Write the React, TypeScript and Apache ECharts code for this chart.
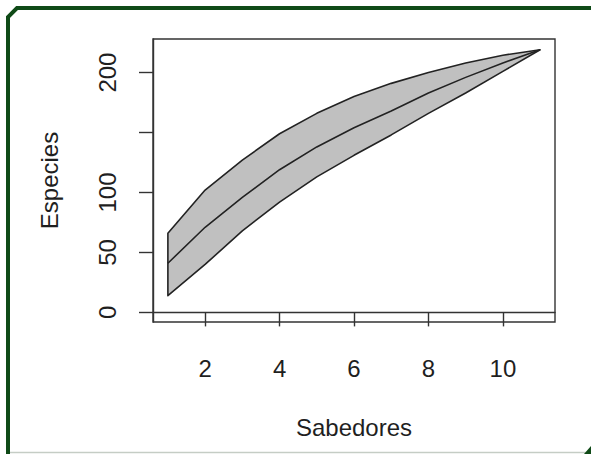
import React, { useEffect, useRef } from "react";
import * as echarts from "echarts";

const sabedores = [1, 2, 3, 4, 5, 6, 7, 8, 9, 10, 11];
const upperBound = [66, 102, 127, 149, 166, 180, 191, 200, 208, 214.5, 219];
const meanCurve = [41, 71, 96, 119, 138, 154, 168, 183, 196, 208, 219];
const lowerBound = [14, 40, 68, 92, 113, 131, 148, 166, 183, 201, 219];

const xTicks = [2, 4, 6, 8, 10];
const yTicks = [0, 50, 100, 150, 200];
const yTickLabels = [0, 50, 100, 200];

const FONT = "'Liberation Sans', Arial, sans-serif";
const TEXT = "#1f1f1f";
const LINE = "#222222";

export default function App() {
  const ref = useRef<HTMLDivElement>(null);

  useEffect(() => {
    if (!ref.current) return;
    const chart = echarts.init(ref.current, undefined, { renderer: "svg" });
    const pair = (arr: number[]) => sabedores.map((x, i) => [x, arr[i]]);

    chart.setOption({
      animation: false,
      backgroundColor: "#ffffff",
      grid: {
        left: 153,
        right: 36,
        top: 39,
        bottom: 132,
        show: true,
        borderColor: "#333333",
        borderWidth: 1.4,
        backgroundColor: "transparent",
      },
      xAxis: {
        type: "value",
        min: 0.6,
        max: 11.4,
        name: "Sabedores",
        nameLocation: "middle",
        nameGap: 93,
        nameTextStyle: { fontSize: 24, fontFamily: FONT, color: TEXT },
        axisLine: { show: true, lineStyle: { color: "#333333", width: 1.4 } },
        axisTick: {
          show: true,
          length: 14,
          customValues: xTicks,
          lineStyle: { color: "#333333", width: 1.4 },
        },
        axisLabel: {
          customValues: xTicks,
          margin: 34,
          fontSize: 24,
          fontFamily: FONT,
          color: TEXT,
        },
        splitLine: { show: false },
      },
      yAxis: {
        type: "value",
        min: -8,
        max: 228,
        name: "Especies",
        nameLocation: "middle",
        nameGap: 92,
        nameTextStyle: { fontSize: 24, fontFamily: FONT, color: TEXT },
        axisLine: { show: true, lineStyle: { color: "#333333", width: 1.4 } },
        axisTick: {
          show: true,
          length: 14,
          customValues: yTicks,
          lineStyle: { color: "#333333", width: 1.4 },
        },
        axisLabel: {
          customValues: yTickLabels,
          rotate: 90,
          margin: 34,
          fontSize: 24,
          fontFamily: FONT,
          color: TEXT,
        },
        splitLine: { show: false },
      },
      graphic: [
        {
          type: "polyline",
          silent: true,
          shape: {
            points: [
              [8, 460],
              [8, 17],
              [17, 8],
              [595, 8],
            ],
          },
          style: { stroke: "#0f4a17", lineWidth: 4, fill: null },
        },
        {
          type: "line",
          silent: true,
          shape: { x1: 10, y1: 452.5, x2: 586, y2: 452.5 },
          style: { stroke: "#c5cdc5", lineWidth: 1.5 },
        },
        {
          type: "polygon",
          silent: true,
          shape: {
            points: [
              [591, 446],
              [591, 454],
              [584, 454],
            ],
          },
          style: { fill: "#0f4a17" },
        },
      ],
      series: [
        {
          name: "band",
          type: "custom",
          silent: true,
          data: sabedores.map((x, i) => [x, lowerBound[i], upperBound[i]]),
          encode: { x: 0, y: [1, 2] },
          renderItem: (params: any, api: any) => {
            if (params.dataIndex !== 0) return null;
            const top = sabedores.map((x, i) => api.coord([x, upperBound[i]]));
            const bottom = sabedores
              .map((x, i) => api.coord([x, lowerBound[i]]))
              .reverse();
            return {
              type: "polygon",
              shape: { points: top.concat(bottom) },
              style: {
                fill: "#c0c0c0",
                stroke: LINE,
                lineWidth: 1.6,
                lineJoin: "round",
              },
            };
          },
          z: 2,
        },
        {
          name: "mean",
          type: "line",
          data: pair(meanCurve),
          symbol: "none",
          silent: true,
          lineStyle: { color: LINE, width: 1.6 },
          z: 5,
        },
      ],
    });

    return () => chart.dispose();
  }, []);

  return (
    <div
      ref={ref}
      style={{ position: "absolute", left: 0, top: 0, width: 591, height: 454 }}
    />
  );
}
